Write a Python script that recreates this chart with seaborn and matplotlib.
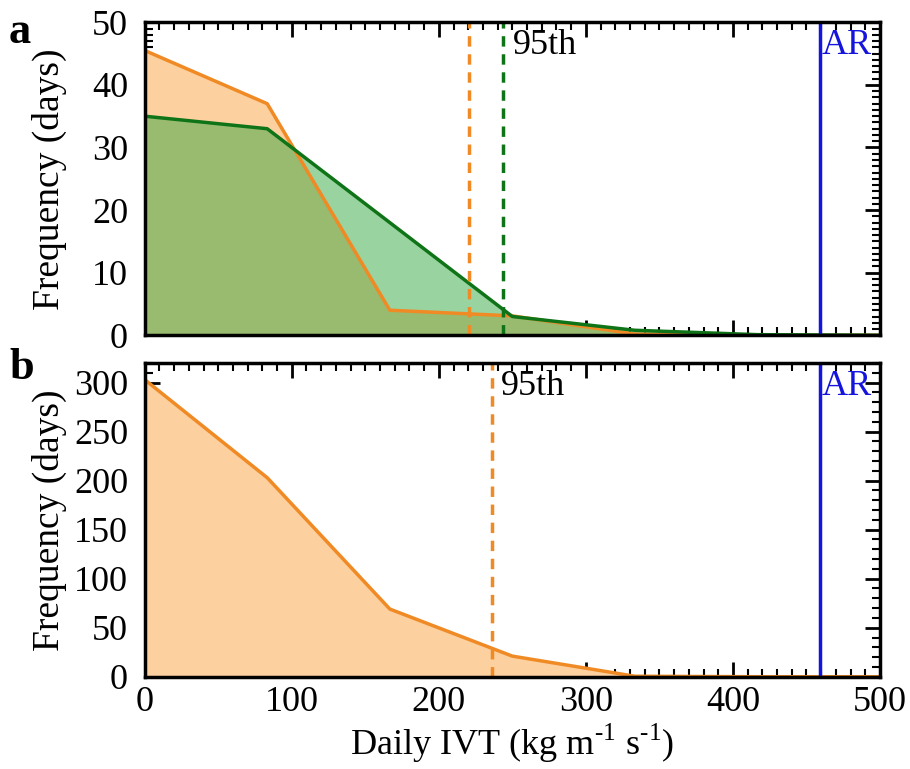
import matplotlib
matplotlib.use("Agg")
import matplotlib.pyplot as plt
from matplotlib.ticker import MultipleLocator
import pandas as pd
import seaborn as sns

# IVT bin edges (kg m-1 s-1)
ivt = [0, 83.3, 166.7, 250, 333.3, 416.7, 500]

# panel a: two frequency curves (days)
freq_a_orange = [45.5, 37, 4, 3.1, 0.2, 0, 0]
freq_a_green = [35, 33, 18, 3, 0.8, 0.1, 0]
p95_a_orange = 220.5
p95_a_green = 243.5

# panel b
freq_b_orange = [303, 203, 69, 21, 0.5, 0, 0]
p95_b_orange = 236.5

ar_threshold = 459

sns.set_style("ticks")
plt.rcParams["font.family"] = ["Liberation Serif", "DejaVu Serif"]
plt.rcParams["mathtext.fontset"] = "custom"
plt.rcParams["mathtext.rm"] = "Liberation Serif"
plt.rcParams["text.color"] = "black"
plt.rcParams["axes.labelcolor"] = "black"
plt.rcParams["xtick.color"] = "black"
plt.rcParams["ytick.color"] = "black"

orange_line = "#f08a24"
orange_fill = "#fdd0a0"
green_line = "#0f7417"
green_fill = "#35a840"
blue = "#1414dc"
fs = 26

fig = plt.figure(figsize=(9.1, 7.69), dpi=100)
ax_a = fig.add_axes([0.159, 0.564, 0.808, 0.407])
ax_b = fig.add_axes([0.159, 0.120, 0.808, 0.408])

df_ao = pd.DataFrame({"ivt": ivt, "freq": freq_a_orange})
df_ag = pd.DataFrame({"ivt": ivt, "freq": freq_a_green})
df_b = pd.DataFrame({"ivt": ivt, "freq": freq_b_orange})

# panel a: orange first, green fill laid over it
ax_a.fill_between(ivt, freq_a_orange, color=orange_fill, lw=0)
sns.lineplot(data=df_ao, x="ivt", y="freq", color=orange_line, lw=2.5, ax=ax_a)
ax_a.fill_between(ivt, freq_a_green, color=green_fill, alpha=0.5, lw=0)
sns.lineplot(data=df_ag, x="ivt", y="freq", color=green_line, lw=2.5, ax=ax_a)
ax_a.axvline(p95_a_orange, color=orange_line, ls=(0, (3, 2.2)), lw=2.5)
ax_a.axvline(p95_a_green, color=green_line, ls=(0, (3, 2.2)), lw=2.5)
ax_a.axvline(ar_threshold, color=blue, lw=2.5)
ax_a.text(p95_a_green + 7, 49, "95th", fontsize=26, va="top")
ax_a.text(ar_threshold + 1.5, 49, "AR", fontsize=26, va="top", color=blue)
ax_a.set_ylim(0, 50)
ax_a.yaxis.set_major_locator(MultipleLocator(10))
ax_a.yaxis.set_minor_locator(MultipleLocator(1))

# panel b
ax_b.fill_between(ivt, freq_b_orange, color=orange_fill, lw=0)
sns.lineplot(data=df_b, x="ivt", y="freq", color=orange_line, lw=2.5, ax=ax_b)
ax_b.axvline(p95_b_orange, color=orange_line, ls=(0, (3, 2.2)), lw=2.5)
ax_b.axvline(ar_threshold, color=blue, lw=2.5)
ax_b.text(p95_b_orange + 6, 313, "95th", fontsize=26, va="top")
ax_b.text(ar_threshold + 1.5, 313, "AR", fontsize=26, va="top", color=blue)
ax_b.set_ylim(0, 320)
ax_b.yaxis.set_major_locator(MultipleLocator(50))
ax_b.yaxis.set_minor_locator(MultipleLocator(10))

for ax in (ax_a, ax_b):
    ax.set_xlim(0, 500)
    ax.xaxis.set_major_locator(MultipleLocator(100))
    ax.xaxis.set_minor_locator(MultipleLocator(10))
    ax.tick_params(which="both", direction="in", top=True, right=True,
                   labelsize=fs, color="black")
    ax.tick_params(axis="y", which="major", pad=12)
    ax.tick_params(axis="x", which="major", pad=7)
    ax.tick_params(which="major", length=11, width=2)
    ax.tick_params(which="minor", length=5.5, width=1.5)
    for sp in ax.spines.values():
        sp.set_visible(True)
        sp.set_linewidth(2.5)
        sp.set_color("black")
    ax.set_ylabel("Frequency (days)", fontsize=27)
    ax.yaxis.set_label_coords(-0.106, 0.5)

ax_a.set_xlabel("")
ax_a.set_xticklabels([])
ax_b.set_xlabel("Daily IVT (kg m$^{\\mathregular{\\text{-}1}}$ s$^{\\mathregular{\\text{-}1}}$)",
                fontsize=fs, labelpad=2)

fig.text(0.010, 0.985, "a", fontsize=32, fontweight="bold", va="top")
fig.text(0.010, 0.547, "b", fontsize=32, fontweight="bold", va="top")

fig.savefig("out.png", dpi=100)
